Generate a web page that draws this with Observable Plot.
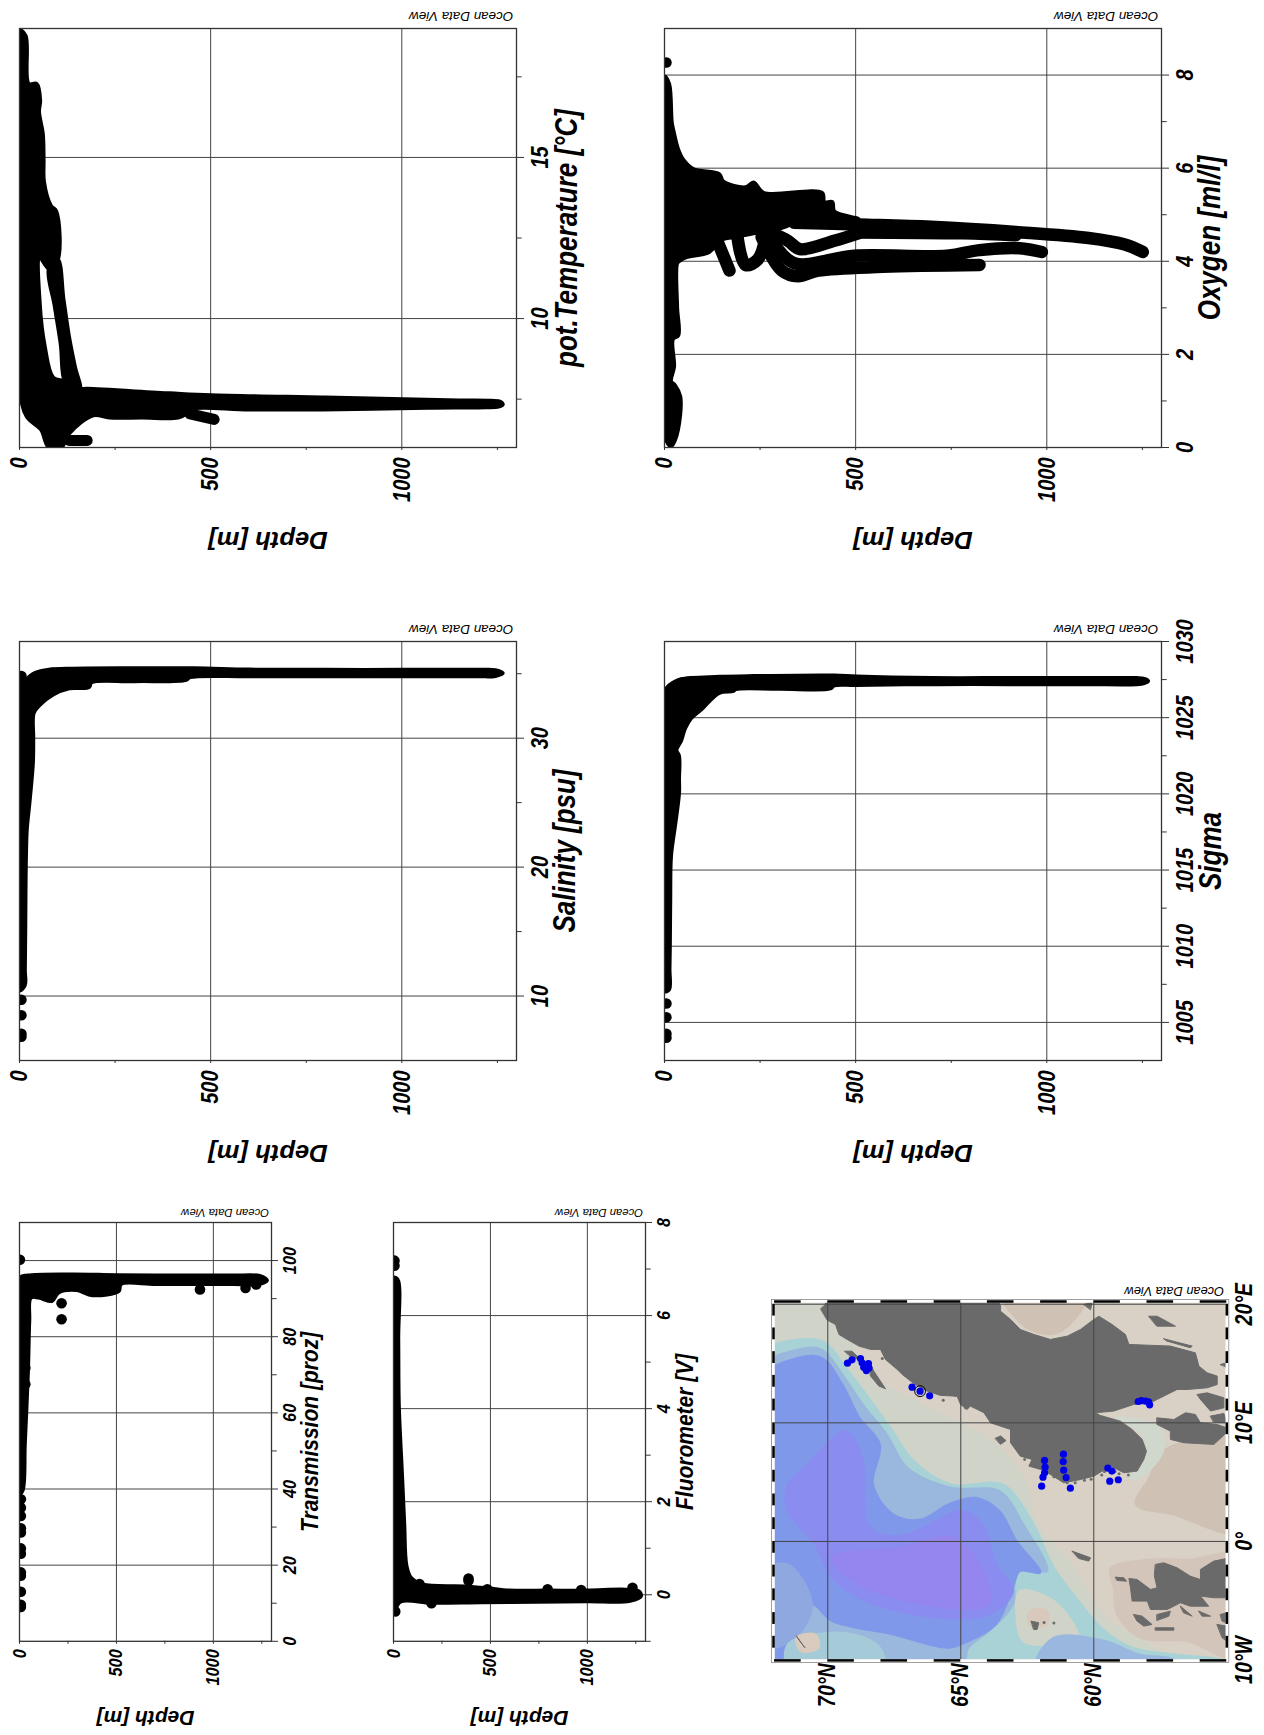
<!DOCTYPE html>
<html>
<head>
<meta charset="utf-8">
<script src="https://cdn.jsdelivr.net/npm/d3@7"></script>
<script src="https://cdn.jsdelivr.net/npm/@observablehq/plot@0.6"></script>
<style>
html,body{margin:0;padding:0;background:#fff}
#page{position:relative;width:1264px;height:1735px;overflow:hidden;background:#fff}
#page svg{position:absolute;background:transparent}
</style>
</head>
<body>
<div id="page"></div>
<script>
// ---- value clouds, [depth m, value]
const tempCloud=[[0,18.94],[16,18.77],[24,17.28],[45,17.28],[54,16.77],[51,16.42],[61,15.73],[63,14.93],[64,14.24],[82,13.5],[96,13.33],[100,11.83],[77,11.55],[53,11.89],[53,10.46],[66,9.14],[88,8.17],[119,8.05],[158,7.82],[177,7.82],[393,7.68],[500,7.62],[800,7.55],[1005,7.5],[1150,7.46],[1235,7.45],[1258,7.42],[1264,7.34],[1253,7.27],[1220,7.25],[1069,7.23],[794,7.18],[600,7.18],[446,7.19],[436,7.05],[415,6.93],[320,6.93],[235,6.93],[193,7.0],[130,6.44],[109,6.0],[77,6.0],[56,6.56],[19,6.96],[0,7.94]];
const tempBand=[[100,11.83],[115,10.6],[130,9.4],[145,8.5],[158,7.82],[140,7.9],[119,8.05],[108,9.2],[92,10.4],[77,11.55]];
const tempTails=[[[446,7.04],[509,6.87]],[[130,6.22],[177,6.22]]];
const oxygenCloud=[[0,7.97],[12,7.81],[19,6.98],[24,6.78],[35,6.42],[49,6.18],[75,5.98],[143,5.87],[154,5.71],[212,5.59],[233,5.69],[259,5.47],[412,5.47],[418,5.27],[439,5.27],[444,5.07],[507,4.91],[444,4.95],[370,4.95],[318,4.75],[286,4.67],[233,4.6],[180,4.52],[143,4.44],[117,4.2],[54,4.08],[38,4],[33,3.96],[33,3.01],[36,2.41],[22,2.33],[25,1.74],[17,1.42],[27,1.34],[41,1.1],[41,0.71],[27,0.15],[17,0.03],[5,0.15],[0,0.55]];
const oxygenBranches=[
 [[339,4.83],[507,4.79],[697,4.74],[919,4.63],[1109,4.5],[1204,4.36],[1251,4.2]],
 [[500,4.62],[780,4.6],[919,4.56]],
 [[275,4.63],[323,4.44],[354,4.26],[444,4.44],[507,4.6]],
 [[281,4.44],[339,3.96],[497,4.12],[739,4.12],[824,4.24],[929,4.28],[987,4.2]],
 [[254,4.52],[307,3.8],[349,3.68],[402,3.8],[571,3.88],[824,3.92]],
 [[138,4.44],[170,3.8]],
 [[191,4.52],[212,3.92],[244,4.04],[265,4.52]]
];
const oxygenTop=[[5,8.27]];
const salinityCloud=[[0,34.39],[14,34.53],[40,35.05],[77,35.31],[140,35.39],[300,35.42],[457,35.42],[600,35.32],[800,35.3],[1000,35.3],[1200,35.3],[1245,35.28],[1264,35.05],[1245,34.83],[1200,34.8],[1000,34.8],[800,34.8],[600,34.8],[446,34.73],[436,34.53],[300,34.42],[188,34.33],[182,33.96],[130,33.87],[88,33.39],[51,32.53],[37,31.95],[36,30],[35,28.08],[26,25],[19,22.91],[17,21],[16,19.18],[15,15],[14,12],[14,10.86],[0,10.43],[0,20],[0,30]];
const salinityDots=[[5,34.82],[5,9.71],[5,8.51],[5,7.07],[5,6.84]];
const sigmaCloud=[[0,1026.75],[27,1027.36],[43,1027.53],[143,1027.68],[233,1027.73],[444,1027.77],[502,1027.7],[700,1027.6],[900,1027.6],[1100,1027.6],[1235,1027.6],[1255,1027.55],[1265,1027.41],[1255,1027.27],[1235,1027.2],[1100,1027.2],[900,1027.2],[700,1027.2],[500,1027.15],[444,1027.12],[434,1026.92],[300,1026.9],[186,1026.87],[180,1026.75],[143,1026.63],[96,1025.54],[70,1024.98],[54,1024.32],[43,1023.47],[31,1022.86],[38,1022.49],[38,1021],[38,1020.06],[28,1018],[17,1015.92],[15,1013],[14,1010.09],[13,1008.5],[12,1007.17],[0,1007.04],[0,1015],[0,1022]];
const sigmaDots=[[5,1006.24],[5,1005.34],[5,1004.25],[5,1004.0]];
const transCloud=[[0,95.52],[41,96.2],[272,96.5],[500,96.3],[800,96.2],[1100,96.2],[1240,96.1],[1270,95.4],[1279,94.8],[1240,93.8],[1100,93.7],[940,93.7],[700,93.7],[525,93.73],[514,91.94],[376,90.78],[295,92.12],[203,91.5],[168,89.26],[99,90.15],[60,90.15],[53,84.33],[46,70.9],[30,52],[18,39.57],[0,38.68],[0,60],[0,80]];
const transDots=[[2,100.2],[217,88.8],[217,84.6],[931,92.4],[1166,92.8],[1221,93.7],[30,67.5],[30,71.8],[7,37.3],[7,35.1],[7,32.9],[7,29.7],[7,28.6],[7,24.4],[7,23],[7,18.1],[7,17.2],[7,13],[7,9.6],[7,9]];
const fluorCloud=[[0,6.82],[23,6.78],[27,5.5],[30,4.07],[46,2.61],[58,1.51],[69,0.63],[92,0.37],[150,0.23],[369,0.19],[484,0.15],[599,0.1],[800,0.1],[1000,0.1],[1198,0.12],[1267,0.08],[1279,-0.03],[1221,-0.14],[1000,-0.15],[737,-0.16],[450,-0.17],[196,-0.18],[35,-0.16],[0,-0.43],[0,2],[0,5]];
const fluorTails=[[[60,0],[600,0],[1250,0]]];
const fluorDots=[[387,0.3],[387,0.35],[134,0.23],[795,0.12],[968,0.1],[1233,0.15],[484,0.12],[5,7.18],[5,7.07],[9,-0.36],[196,-0.18]];

// ---- map: [latitude, longitude]
const stations=[[69.26,15.03],[69.09,15.31],[68.77,15.42],[68.71,15.06],[68.65,14.69],[68.55,14.41],[68.45,14.63],[68.47,15],[66.83,13.01],[66.53,12.67],[66.17,12.28],[61.85,6.83],[61.83,6.26],[61.85,5.79],[61.91,5.42],[61.96,4.66],[61.14,7.36],[61.15,6.74],[61.13,6.01],[61.04,5.39],[60.88,4.49],[59.47,6.18],[59.32,5.93],[59.4,5.08],[59.08,5.2],[58.33,11.8],[58.21,11.88],[58.06,11.83],[57.94,11.77],[57.9,11.52]];
const selectedStation=[[66.53,12.67]];
const seaLayers=[
 ["#cfc1b4",[[63.42,20.6],[60.35,20.6],[60.35,19.97],[61.37,17.58],[62.4,17.86],[62.91,18.8]]],
 ["#cfc1b4",[[54.6,8.45],[57.4,7.61],[57.91,5.36],[58.42,3.12],[57.01,2.27],[54.6,0.87]]],
 ["#d3c5b9",[[59.37,-2.28],[57.87,-1.52],[56.37,-1.52],[54.6,-1.24],[54.6,-9.81],[56.49,-8.41],[58.24,-8.13],[59.12,-6.16],[59.25,-3.91]]],
 ["#d0d3c8",[[72.6,20.6],[69.96,20.6],[68.55,14.35],[66.5,11.54],[63.68,8.17],[62.53,4.8],[62.14,1.43],[60.86,-1.94],[59.58,-6.43],[57.01,-10.4],[72.6,-10.4]]],
 ["#d0d8cd",[[59.19,10.42],[57.53,9.58],[57.4,7.61],[58.3,5.36],[58.68,5.36],[58.04,7.61],[58.17,9.02]]],
 ["#a9d2d6",[[72.6,15.62],[71.12,17.02],[70.09,16.74],[69.32,14.63],[68.55,12.39],[67.65,9.58],[66.76,6.77],[65.35,4.8],[63.42,4.8],[62.4,1.99],[61.5,-2.22],[60.86,-4.19],[59.58,-7.56],[58.55,-8.96],[57.01,-9.52],[55.22,-9.94],[54.6,-10.4],[72.6,-10.4]]],
 ["#d0d4c8",[[62.78,-4.19],[61.5,-5.03],[60.6,-8.12],[61.5,-8.68],[62.65,-8.4],[62.91,-6.15]]],
 ["#d8c9bc",[[62.4,-5.87],[61.76,-5.87],[61.76,-6.99],[62.4,-7.14]]],
 ["#9ab7dd",[[72.6,14.35],[71.12,16.18],[70.22,16.18],[69.45,14.07],[68.68,11.54],[67.78,9.02],[67.01,6.21],[65.35,4.52],[63.55,4.24],[62.65,1.43],[61.76,-2.5],[62.91,-1.94],[63.04,-5.31],[63.94,-7.56],[64.71,-8.96],[64.96,-10.4],[72.6,-10.4]]],
 ["#9ab7e0",[[61.5,-8.12],[59.58,-8.4],[58.3,-9.52],[57.01,-9.94],[57.01,-10.4],[62.14,-10.4]]],
 ["#7f98ea",[[72.6,13.51],[71.12,15.48],[70.22,15.48],[69.45,13.23],[68.81,10.42],[68.04,8.17],[68.3,4.8],[67.53,2.27],[66.5,1.85],[65.47,3.12],[64.45,3.68],[63.55,2.56],[62.91,0.03],[62.01,-2.64],[62.78,-2.5],[63.04,-3.91],[63.68,-6.99],[64.71,-8.4],[65.47,-8.96],[67.53,-7.84],[69.83,-6.71],[70.6,-5.31],[71.24,-8.12],[71.95,-10.4],[72.6,-10.4]]],
 ["#8fa8e0",[[72.4,-2.5],[71.5,-1.94],[70.6,-5.31],[71.24,-8.12],[72.4,-8.96]]],
 ["#a6cbd8",[[71.5,-8.68],[70.47,-7.84],[69.01,-7.84],[68.04,-8.96],[67.91,-10.4],[71.5,-10.4]]],
 ["#d9cbbd",[[71.18,-8.12],[70.47,-7.84],[70.35,-8.96],[71.0,-9.24]]],
 ["#8a8cf0",[[71.5,4.8],[70.86,6.21],[69.32,9.3],[68.68,6.77],[68.55,1.71],[68.04,0.59],[67.01,0.59],[64.96,2.56],[64.19,1.43],[63.68,-1.94],[63.04,-4.19],[63.94,-6.15],[65.73,-6.43],[68.55,-5.03],[69.83,-3.06],[70.47,-0.25],[71.5,2.56]]],
 ["#9486ec",[[69.83,-1.38],[67.27,-0.53],[65.22,0.31],[64.19,-2.5],[63.94,-5.31],[65.35,-5.59],[68.55,-3.91]]]
];
const landAreas=[
 [[70.09,20.4],[70.09,19.98],[70.27,19.61],[70.15,19.14],[70.02,18.66],[69.71,18.29],[69.58,17.45],[69.27,17.03],[68.83,16.47],[68.39,16.19],[68.02,16.19],[67.83,15.34],[67.39,14.5],[67.2,14.08],[66.77,13.32],[66.26,12.67],[65.76,12.31],[65.14,12.25],[65.01,11.55],[64.76,11.13],[64.64,11.41],[64.13,10.85],[63.88,10],[63.13,9.44],[63.13,8.32],[62.76,7.19],[62.32,6.91],[62.44,6.35],[62,6.07],[61.63,5.65],[61.13,4.94],[60.5,5.22],[60,5.5],[59.37,6.35],[58.87,5.79],[58.37,5.93],[58.12,6.91],[58.02,7.61],[58.18,8.6],[58.56,9.44],[59,10.14],[59.75,10.62],[59.94,10.85],[59.25,10.99],[58.5,11.55],[57.87,11.69],[56.87,12.81],[56.49,12.81],[55.74,12.95],[55.36,13.23],[55.36,13.94],[55.74,14.22],[56.05,14.78],[56.18,15.9],[57.12,16.47],[58.68,16.61],[58.81,17.45],[59.31,18.29],[59.81,18.99],[60,18.72],[60.5,17.87],[61,17.31],[61.63,17.03],[62.25,17.45],[62.76,17.87],[63.13,18.72],[63.51,19.42],[63.5,19.84],[63.63,20.4]],
 [[57.68,-1.94],[57.37,-1.8],[56.87,-2.22],[56.37,-2.93],[55.99,-3.21],[55.99,-2.36],[55.49,-1.66],[55.01,-1.44],[55.01,-4.75],[55.49,-4.75],[55.99,-4.61],[55.68,-5.46],[56.37,-5.46],[56.74,-5.17],[57.24,-5.74],[57.87,-5.74],[57.99,-5.03],[58.56,-5.03],[58.62,-3.91],[58.68,-3.12],[58.37,-3.21],[57.87,-4.05],[57.62,-3.91],[57.72,-2.93]],
 [[57.62,10.42],[56.99,10.28],[56.55,10.85],[56.18,10.7],[55.99,10],[55.36,9.86],[55.01,9.58],[55.01,9.16],[55.49,8.18],[56.61,8.32],[57.12,8.6],[57.12,9.3],[57.62,9.86]],
 [[56.11,12.39],[55.74,12.53],[55.11,12.11],[55.11,11.27],[55.61,10.99],[55.99,11.97]],
 [[55.61,10.57],[55.11,10.79],[55.01,10],[55.49,10.06]],
 [[55.24,14.92],[55.01,15.06],[55.01,14.72]],
 [[57.93,18.99],[57.62,18.99],[56.93,18.15],[57.62,18.15]],
 [[57.37,17.09],[56.3,16.47],[56.37,16.33],[57.25,16.89]],
 [[60.37,19.98],[60.06,20.18],[60.12,19.56]],
 [[68.46,15.2],[68.27,14.36],[67.83,12.87],[68.08,13.1],[68.39,13.94]],
 [[69.36,16.04],[69.09,16.04],[68.77,15.34],[69.09,15.48]],
 [[63.7,8.7],[63.5,8.9],[63.3,8.5],[63.5,8.2]],
 [[57.62,-6.16],[57.12,-5.88],[57.18,-6.3],[57.62,-6.66]],
 [[56.74,-5.46],[56.3,-6.3],[56.62,-6.02]],
 [[56.05,-5.88],[55.61,-6.3],[55.92,-6.3]],
 [[58.5,-6.16],[58.18,-6.3],[57.81,-7],[58.12,-7.14],[58.37,-6.72]],
 [[57.68,-7.28],[56.99,-7.28],[56.99,-7.48],[57.68,-7.48]],
 [[59.18,-3.01],[58.87,-3.07],[58.77,-3.35],[59.12,-3.29]],
 [[60.81,-0.82],[60.12,-1.38],[60.19,-1.66],[60.56,-1.44]],
 [[55.24,-6.16],[55.01,-6.02],[55.01,-6.86],[55.17,-6.72]],
 [[55.36,-7],[55.01,-7.14],[55.01,-8.41],[55.17,-8.13]],
 [[62.35,-6.72],[62.07,-6.86],[62.13,-7.42],[62.25,-7.42]],
 [[71.18,-7.98],[70.86,-8.96],[71.05,-8.4]]
];
const landSpecks=[[69.52,18.86],[69.18,17.87],[68.46,17.03],[67.95,15.42],[67.64,15.34],[67.27,14.92],[67.0,13.94],[65.82,12.53],[65.66,11.91],[65.2,12.33],[64.82,11.27],[63.95,11.13],[63.63,10.71],[63.0,8.3],[62.82,8.17],[62.5,7.46],[62.0,6.2],[61.3,5.3],[60.5,6.3],[60.3,5.7],[59.87,6.07],[59.6,5.9],[61.87,-6.84],[61.5,-6.87],[62.6,6.9],[62.2,6.35],[61.85,5.75],[61.5,5.45],[61.0,4.95],[60.7,4.95],[60.35,5.15],[60.1,5.25],[59.7,5.6],[59.2,5.9],[59.05,5.7],[58.7,5.6]];
const latTicks=[70,65,60];
const lonTicks=[20,10,0,-10];
const latDashes=[72,70,68,66,64,62,60,58,56];
const lonDashes=[20,18,16,14,12,10,8,6,4,2,0,-2,-4,-6,-8];

const depthTicks=[0,500,1000], depthMinor=[250,750,1250], depthDomain=[0,1300];
const FONT="'Liberation Sans',Arial,sans-serif";
const page=document.getElementById("page");
const px=d=>d[0], py=d=>d[1];
const ML=15,MT=26,MR=130,MB=125;

// text in the reference is stretched along the page's x axis
function stretch(svg,cross,horiz){
  svg.querySelectorAll("text").forEach(t=>{
    const tr=t.getAttribute("transform")||"";
    if(/rotate\(-90\)/.test(tr)) t.setAttribute("transform",tr+` scale(1,${cross})`);
    else if(/rotate\(180\)/.test(tr)) t.setAttribute("transform",tr+` scale(${horiz},1)`);
  });
}

function panel(o){
  const ink="#333";
  const common={fontFamily:FONT,fontWeight:"bold",fontStyle:"italic",fontSize:o.tick};
  const marks=[
    Plot.gridX(o.xGrid,{stroke:"#444",strokeOpacity:1,strokeWidth:1}),
    Plot.gridY(o.yGrid,{stroke:"#444",strokeOpacity:1,strokeWidth:1}),
    ...o.clouds.map(c=>Plot.line(c,{x:px,y:py,curve:"catmull-rom-closed",fill:"black",stroke:"black",strokeWidth:o.soft,clip:"frame"})),
    ...(o.tails||[]).map(t=>Plot.line(t,{x:px,y:py,curve:"catmull-rom",stroke:"black",strokeWidth:o.tailWidth,clip:"frame"})),
    ...(o.dots?[Plot.dot(o.dots,{x:px,y:py,r:5.3,fill:"black",clip:"frame"})]:[]),
    Plot.frame({stroke:ink,strokeWidth:1.3}),
    Plot.axisX(depthTicks,{anchor:"bottom",tickSize:3,tickPadding:o.xPad,tickRotate:-90,label:null,stroke:ink,...common,tickFormat:d=>String(d)}),
    Plot.axisX(depthMinor,{anchor:"bottom",tickSize:3,label:null,stroke:ink,tickFormat:()=>""}),
    Plot.axisY(o.yLabels,{anchor:"right",tickSize:o.tickLen,tickPadding:o.yPad,tickRotate:-90,label:null,stroke:ink,...common,tickFormat:d=>String(d)}),
    Plot.axisY(o.yMinor,{anchor:"right",tickSize:4.7,label:null,stroke:ink,tickFormat:()=>""}),
    Plot.text(["Depth [m]"],{frameAnchor:"bottom",lineAnchor:"middle",dy:o.depthDy,rotate:180,fontFamily:FONT,fontWeight:"bold",fontStyle:"italic",fontSize:o.depthSize}),
    Plot.text([o.label],{frameAnchor:"right",lineAnchor:"middle",dx:o.labelDx,rotate:-90,fontFamily:FONT,fontWeight:"bold",fontStyle:"italic",fontSize:o.labelSize,textAnchor:"middle"}),
    Plot.text(["Ocean Data View"],{frameAnchor:"top-right",lineAnchor:"middle",textAnchor:"start",dx:o.odvDx,dy:o.odvDy,rotate:180,fontFamily:FONT,fontStyle:"italic",fontSize:o.odv})
  ];
  const svg=Plot.plot({
    width:o.w+ML+MR,height:o.h+MT+MB,
    marginLeft:ML,marginRight:MR,marginTop:MT,marginBottom:MB,
    style:{background:"transparent",overflow:"visible"},
    x:{domain:depthDomain,axis:null},
    y:{domain:o.yDomain,axis:null},
    marks
  });
  stretch(svg,o.cross,o.horiz);
  svg.style.left=(o.x-ML)+"px"; svg.style.top=(o.y-MT)+"px";
  page.appendChild(svg);
}
const big={w:497,h:419,tick:20,xPad:7,yPad:24,tickLen:7,depthDy:92,depthSize:23.5,labelSize:26,odv:12.3,odvDx:-3.3,odvDy:-12.7,cross:1.22,horiz:1.09,soft:4,tailWidth:11};
const small={w:252,h:418.8,tick:16.3,xPad:5,yPad:19,tickLen:6,depthDy:76,depthSize:20,labelSize:21,odv:10.8,odvDx:-2.4,odvDy:-10.5,cross:1.15,horiz:1.05,soft:3,tailWidth:10};

panel({...big,x:19,y:27.7,xGrid:depthTicks,yGrid:[10,15],yLabels:[10,15],yMinor:[7.5,12.5,17.5],yDomain:[6,19],clouds:[tempCloud,tempBand],tails:tempTails,label:"pot.Temperature [°C]",labelDx:50});
panel({...big,x:664,y:27.7,xGrid:depthTicks,yGrid:[2,4,6,8],yLabels:[0,2,4,6,8],yMinor:[1,3,5,7],yDomain:[0,9],clouds:[oxygenCloud],tails:oxygenBranches,tailWidth:12.5,dots:oxygenTop,label:"Oxygen [ml/l]",labelDx:48});
panel({...big,x:19,y:640.8,xGrid:depthTicks,yGrid:[10,20,30],yLabels:[10,20,30],yMinor:[15,25,35],yDomain:[5,37.5],clouds:[salinityCloud],dots:salinityDots,label:"Salinity [psu]",labelDx:48});
panel({...big,x:664,y:640.8,xGrid:depthTicks,yGrid:[1005,1010,1015,1020,1025],yLabels:[1005,1010,1015,1020,1025,1030],yMinor:[1007.5,1012.5,1017.5,1022.5,1027.5],yDomain:[1002.5,1030],clouds:[sigmaCloud],dots:sigmaDots,label:"Sigma",labelDx:49});
panel({...small,x:18.8,y:1221.5,xGrid:depthTicks,yGrid:[20,40,60,80,100],yLabels:[0,20,40,60,80,100],yMinor:[10,30,50,70,90],yDomain:[0,110],clouds:[transCloud],dots:transDots,label:"Transmission [proz]",labelDx:38.5});
panel({...small,x:393.4,y:1221.5,xGrid:depthTicks,yGrid:[0,2,4,6],yLabels:[0,2,4,6,8],yMinor:[-1,1,3,5,7],yDomain:[-1,8],clouds:[fluorCloud],tails:fluorTails,dots:fluorDots,label:"Fluorometer [V]",labelDx:40});

// map
(function(){
  const X=773,Y=1300.6,W=453.3,H=358.9;
  const common={fontFamily:FONT,fontWeight:"bold",fontStyle:"italic",fontSize:19.5};
  const latEdge=[72.04,55], lonEdge=[-10.03,20.23];
  const svg=Plot.plot({
    width:W+ML+MR,height:H+MT+MB,marginLeft:ML,marginRight:MR,marginTop:MT,marginBottom:MB,
    style:{background:"transparent",overflow:"visible"},
    x:{domain:latEdge,axis:null},y:{domain:lonEdge,axis:null},
    marks:[
      Plot.frame({fill:"#d9d1c6",stroke:null}),
      ...seaLayers.map(([c,p])=>Plot.line(p,{x:px,y:py,curve:"catmull-rom-closed",fill:c,stroke:c,strokeWidth:2,clip:"frame"})),
      ...landAreas.map(p=>Plot.line(p,{x:px,y:py,curve:"linear-closed",fill:"#6a6a6a",stroke:"#6a6a6a",strokeWidth:1,clip:"frame"})),
      Plot.dot(landSpecks,{x:px,y:py,r:1.5,fill:"#6a6a6a"}),
      Plot.gridX(latTicks,{stroke:"#444",strokeOpacity:1}),
      Plot.gridY(lonTicks,{stroke:"#444",strokeOpacity:1}),
      Plot.dot(stations,{x:px,y:py,r:3.6,fill:"#0000e6"}),
      Plot.dot(selectedStation,{x:px,y:py,r:5.4,stroke:"black",strokeWidth:1,fill:"none"}),
      Plot.frame({stroke:"white",strokeWidth:2.5}),
      Plot.frame({stroke:"#888",strokeWidth:0.8,inset:-2}),
      Plot.ruleX(lonDashes,{x:()=>latEdge[0],y1:d=>d-1,y2:d=>d,stroke:"black",strokeWidth:2.5}),
      Plot.ruleX(lonDashes,{x:()=>latEdge[1],y1:d=>d-1,y2:d=>d,stroke:"black",strokeWidth:2.5}),
      Plot.ruleY(latDashes,{y:()=>lonEdge[1],x1:d=>d,x2:d=>d-1,stroke:"black",strokeWidth:2.5}),
      Plot.ruleY(latDashes,{y:()=>lonEdge[0],x1:d=>d,x2:d=>d-1,stroke:"black",strokeWidth:2.5}),
      Plot.axisX(latTicks,{anchor:"bottom",tickSize:0,tickPadding:3,tickRotate:-90,label:null,...common,tickFormat:d=>d+"°N"}),
      Plot.axisY(lonTicks,{anchor:"right",tickSize:0,tickPadding:25,tickRotate:-90,label:null,...common,tickFormat:d=>d===0?"0°":(d<0?(-d)+"°W":d+"°E")}),
      Plot.text(["Ocean Data View"],{frameAnchor:"top-right",lineAnchor:"middle",textAnchor:"start",dx:-2.8,dy:-10.7,rotate:180,fontFamily:FONT,fontStyle:"italic",fontSize:12.2})
    ]
  });
  stretch(svg,1.2,1.05);
  svg.style.left=(X-ML)+"px"; svg.style.top=(Y-MT)+"px";
  page.appendChild(svg);
})();
</script>
</body>
</html>
